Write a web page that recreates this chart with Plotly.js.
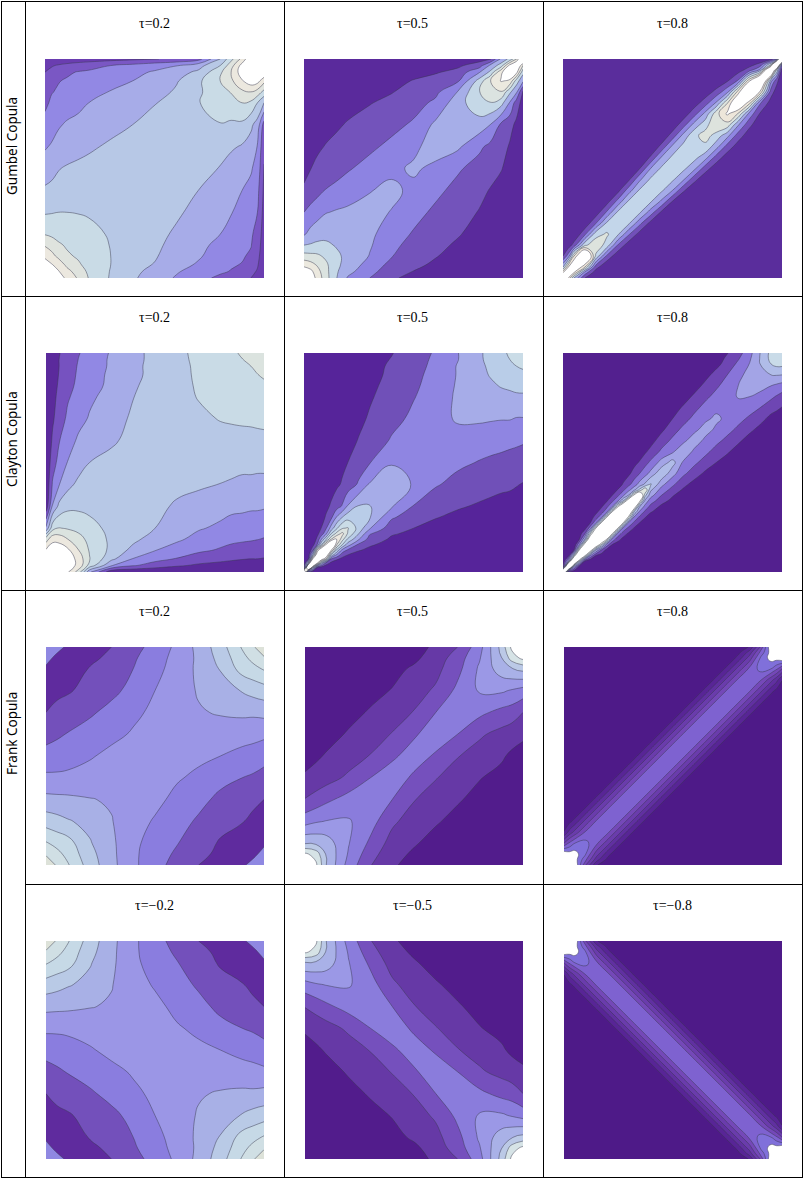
<!DOCTYPE html>
<html>
<head>
<meta charset="utf-8">
<script src="https://cdn.plot.ly/plotly-3.0.1.min.js"></script>
<style>
  body { margin: 0; background: #fff; overflow: hidden; }
</style>
</head>
<body>
<div id="plot"></div>
<script>
// grid nodes for the panels, u and v both run 0..1
let gridA = [0, .03, .06, .1, .15, .2, .3, .4, .5, .6, .7, .8, .85, .9, .94, .97, 1];
let gridB = [0, .025, .05, .1, .15, .2, .25, .3, .35, .4, .45, .5, .55, .6, .65, .7, .75, .8, .85, .9, .95, .975, 1];
let gridC = [0, .05, .1, .2, .3, .4, .5, .6, .7, .8, .9, .95, 1];
// finer near the lower left corner, the clayton ridges are narrow there
let gridD = [0, .025, .05, .075, .1, .125, .15, .175, .2, .225, .25, .275, .3, .325, .35, .375, .4, .45, .5, .55, .6, .65, .7, .75, .8, .85, .9, .95, .975, 1];
let gridE = [0, .02, .04, .06, .08, .1, .125, .15, .175, .2, .25, .3, .4, .5, .6, .7, .8, .85, .9, .94, .97, 1];

// densities, in contour units (z=1 is the first line, z=2 the second...)
// each row is one v, ending on the diagonal. short rows start with zeros
let gumbel02 = [
    [9.5], [9.1, 8.6], [8.5, 8.1, 7.6], [7.8, 7.3, 6.8, 6.2],
    [6.9, 6.6, 6.2, 5.85, 5.5],
    [5.95, 5.8, 5.6, 5.4, 5.25, 5.2],
    [4.9, 4.95, 5, 5, 4.98, 4.93, 4.8],
    [4.15, 4.2, 4.3, 4.4, 4.5, 4.55, 4.65, 4.6],
    [3.5, 3.75, 3.95, 4.1, 4.2, 4.3, 4.45, 4.5, 4.5],
    [2.9, 3.1, 3.3, 3.5, 3.7, 3.85, 4.15, 4.35, 4.45, 4.5],
    [2.3, 2.6, 2.9, 3.1, 3.25, 3.4, 3.7, 4, 4.3, 4.5, 4.7],
    [1.8, 2.15, 2.4, 2.6, 2.75, 3, 3.25, 3.55, 3.95, 4.4, 4.95, 5.5],
    [1.5, 1.95, 2.1, 2.3, 2.45, 2.6, 3.05, 3.25, 3.55, 4.15, 4.9, 5.4, 6.1],
    [1.2, 1.6, 1.95, 2.1, 2.25, 2.4, 2.7, 3, 3.4, 3.9, 4.8, 6, 6.8, 7.9],
    [1, 1.3, 1.55, 1.85, 2.05, 2.15, 2.4, 2.75, 3.1, 3.6, 4.2, 5.8, 7, 8.6, 9.3],
    [.5, .9, 1.1, 1.3, 1.5, 1.65, 2, 2.3, 2.65, 2.95, 3.6, 5, 6.6, 8.4, 9.5, 10],
    [0, .1, .2, .3, .4, .5, .65, .8, .95, 1.2, 1.6, 4, 5.7, 7.3, 9, 10, 10]
];
let gumbel05 = [
    [9], [7.7, 7.3], [6.7, 6.4, 5.9], [5.4, 5.3, 5.2, 4.8],
    [4, 4.1, 4.2, 4.1, 3.95],
    [2.9, 3.3, 3.6, 3.85, 3.7, 3.55],
    [2, 2.35, 2.6, 2.95, 3.1, 3.2, 3.2],
    [1.1, 1.4, 1.7, 2.05, 2.3, 2.5, 2.97, 3.15],
    [.8, .98, 1.2, 1.4, 1.6, 1.9, 2.35, 2.85, 3.1],
    [.5, .65, .85, 1.05, 1.3, 1.5, 1.8, 2.25, 2.85, 3.3],
    [.3, .4, .5, .7, .85, 1.1, 1.4, 1.7, 2.15, 3.2, 3.75],
    [.2, .25, .3, .4, .5, .6, .95, 1.25, 1.6, 2.2, 3.55, 4.7],
    [.1, .15, .2, .25, .3, .4, .7, .95, 1.35, 1.75, 3, 4.95, 5.8],
    [.05, .1, .1, .15, .2, .3, .45, .7, 1.05, 1.4, 1.8, 4.4, 5.95, 7.1],
    [0, .05, .1, .1, .15, .2, .3, .45, .7, .9, 1.3, 2.9, 4.2, 6.8, 8],
    [0, 0, .05, .05, .1, .1, .2, .3, .45, .6, .8, 1.5, 3.2, 4.5, 7.4, 9],
    [0, 0, 0, 0, 0, 0, .1, .1, .2, .3, .4, .6, .8, 3.2, 4.3, 5.8, 10]
];
let gumbel08 = [
    [9.5], [6.9, 9], [3.95, 7.05, 9], [1, 2.55, 6, 10],
    [.43, 1.43, 4.8, 5.7],
    [1.8, 4.6, 5.15],
    [.25, 1.95, 4.19, 4.8],
    [.4, 2.14, 4.17, 4.6],
    [.55, 2.3, 4.15, 4.5],
    [.64, 2.52, 4.15, 4.5],
    [.79, 2.8, 4.17, 4.5],
    [.97, 3, 4.18, 4.55],
    [1.15, 3.13, 4.23, 4.7],
    [.13, 1.3, 3.25, 4.32, 4.95],
    [.25, 1.43, 3.37, 4.75, 5.4],
    [.37, 1.56, 3.41, 4.63, 5.85],
    [.46, 1.6, 3.32, 5.6, 7.2],
    [.52, 1.5, 3.13, 5.9, 9],
    [.43, 1.3, 2.7, 6.5, 10],
    [.25, .9, 2.14, 6.8, 11],
    [.55, 1.43, 3.2, 11],
    [.6, 1.3, 5, 14],
    [.25, .5, 2, 14]
];
let clayton02 = [
    [10], [9.5, 9.8], [9, 9.2, 9.4], [8.1, 8.6, 8.7, 8.2],
    [6.5, 7.7, 7.6, 7, 6.6],
    [3.2, 5.6, 6.05, 5.9, 5.5, 5.25],
    [.3, 3.1, 4.25, 4.75, 4.85, 4.8, 4.7],
    [.1, 2.1, 2.95, 3.7, 4.25, 4.45, 4.55, 4.5],
    [0, 1.6, 2.3, 3.05, 3.55, 4, 4.3, 4.45, 4.5],
    [0, 1.15, 1.95, 2.5, 3.2, 3.4, 3.85, 4.3, 4.5, 4.55],
    [0, .85, 1.5, 2.2, 2.65, 3.1, 3.6, 4.15, 4.45, 4.6, 4.8],
    [0, .65, 1.3, 1.9, 2.35, 2.8, 3.4, 3.98, 4.35, 4.65, 5.05, 5.35],
    [0, .6, 1.15, 1.75, 2.2, 2.6, 3.25, 3.9, 4.3, 4.7, 5.1, 5.5, 5.65],
    [0, .55, 1.05, 1.6, 2.15, 2.55, 3.2, 3.8, 4.25, 4.7, 5.15, 5.5, 5.7, 5.85],
    [0, .5, 1, 1.5, 2.1, 2.45, 3.15, 3.8, 4.25, 4.75, 5.15, 5.55, 5.75, 5.9, 6],
    [0, .5, 1, 1.45, 2.03, 2.4, 3.15, 3.75, 4.25, 4.75, 5.2, 5.6, 5.8, 5.98, 6.15, 6.25],
    [0, .45, .95, 1.4, 1.95, 2.35, 3.1, 3.75, 4.25, 4.8, 5.2, 5.65, 5.85, 6.1, 6.25, 6.4, 6.5]
];
let clayton05 = [
    [14], [14], [5.4, 14], [.9, 8, 13], [.2, 4, 9, 13],
    [1.7, 7, 10, 12],
    [.6, 2, 5, 8, 11],
    [.3, 1.2, 3, 4.7, 7, 8.2],
    [.1, .75, 1.5, 2.7, 5, 6.4, 7.3],
    [.4, 1.05, 1.85, 3.5, 4.85, 5.9, 6.1],
    [.15, .6, 1.1, 1.8, 3.1, 4, 4.6, 4.9],
    [.2, .75, 1.15, 1.6, 2.1, 3.1, 4.1, 4.05],
    [.4, .6, .85, 1.1, 1.4, 2.15, 3.1, 3.35],
    [.2, .4, .6, .8, 1, 1.45, 1.95, 2.95, 3],
    [.1, .2, .35, .55, .7, 1.05, 1.4, 2.1, 2.55, 2.7],
    [.1, .2, .35, .45, .8, 1.1, 1.7, 2.2, 2.65, 3.1],
    [.1, .2, .3, .6, .9, 1.4, 1.95, 2.45, 3.15, 3.55],
    [.1, .2, .5, .8, 1.3, 1.85, 2.35, 3.1, 3.65, 3.85],
    [.15, .4, .7, 1.2, 1.75, 2.3, 3.05, 3.75, 4.05, 4.2],
    [.1, .35, .65, 1.15, 1.7, 2.2, 3.05, 3.8, 4.15, 4.45, 4.7],
    [.1, .35, .6, 1.05, 1.65, 2.15, 2.95, 3.85, 4.25, 4.65, 5, 5.25],
    [.05, .3, .55, .95, 1.55, 2.1, 2.95, 3.85, 4.3, 4.75, 5.15, 5.45, 5.7]
];
let clayton08 = [
    [14], [0, 14], [3.7, 12], [.5, 5.5, 12],
    [1, 7.2, 12],
    [3, 8, 12],
    [1, 4, 9, 12],
    [.4, 2, 6, 9.5, 12],
    [.6, 2.6, 7, 10, 12],
    [.2, 1, 2.8, 7, 10, 12],
    [.5, 1.4, 2.7, 7, 10, 12],
    [.7, 1.5, 2.7, 7, 10, 12],
    [.2, .8, 1.7, 2.9, 6.5, 9.5, 11.5],
    [.3, .9, 1.8, 2.8, 5, 8.5, 10.5],
    [.4, 1, 1.8, 2.8, 4.1, 7.4, 9.5],
    [.1, .5, 1.05, 1.8, 2.7, 3.7, 5.3, 7],
    [.5, 1.1, 1.75, 2.5, 3.4, 4.2, 5.2],
    [.1, .45, .8, 1.4, 2, 2.6, 3.3, 4.8],
    [.3, .7, 1.1, 1.65, 2.2, 3.4, 4.4],
    [.1, .25, .45, .85, 1.3, 2.2, 2.8, 4],
    [.25, .6, 1.5, 2.2, 2.7, 3.7],
    [.1, .8, 1.6, 2.25, 2.7, 3.5],
    [.3, 1, 1.65, 2.25, 2.75, 3.25],
    [.5, 1.15, 1.75, 2.3, 2.7, 2.95],
    [.55, 1.2, 1.8, 2.3, 2.75, 3.05],
    [.6, 1.25, 1.85, 2.4, 3, 3.3],
    [.7, 1.35, 2, 2.65, 3.4, 3.9],
    [.7, 1.4, 2.2, 3, 4, 5],
    [.5, 1.2, 1.9, 2.8, 4.05, 5.3, 5.7],
    [.3, .95, 1.6, 2.6, 4, 5.3, 5.8, 6]
];
let frank02 = [
    [9.6], [8.9, 8.3], [8.1, 7.7, 7.4],
    [6.55, 6.35, 6.1, 5.7],
    [5.3, 5.25, 5.2, 5.05, 4.9],
    [4.2, 4.2, 4.25, 4.4, 4.55, 4.6],
    [3.4, 3.45, 3.55, 3.9, 4.25, 4.45, 4.5],
    [2.6, 2.85, 3.05, 3.4, 3.75, 4.1, 4.35, 4.5],
    [2, 2.3, 2.45, 2.85, 3.3, 3.8, 4.2, 4.55, 4.9],
    [1.55, 1.75, 1.9, 2.3, 2.75, 3.3, 4, 4.45, 5.1, 5.7],
    [1.1, 1.35, 1.55, 2.05, 2.5, 3, 3.7, 4.4, 5.2, 6.05, 7.4],
    [.8, 1.15, 1.3, 1.75, 2.25, 2.85, 3.6, 4.3, 5.2, 6.35, 7.7, 8.3],
    [.6, .8, 1.1, 1.55, 2, 2.6, 3.4, 4.2, 5.3, 6.55, 8.1, 8.9, 9.6]
];
let frank05 = [
    [9.5], [8.2, 7.6], [5.9, 5.8, 5.5],
    [3.6, 3.9, 4.05, 4.1],
    [2.05, 2.4, 2.8, 3.4, 3.8],
    [1.15, 1.35, 1.6, 2.2, 3, 3.6],
    [.6, .85, 1.1, 1.5, 2.05, 2.8, 3.5],
    [.2, .4, .65, 1.1, 1.55, 2.05, 2.85, 3.6],
    [0, .1, .3, .7, 1.1, 1.55, 2.05, 3, 3.8],
    [0, 0, .1, .35, .7, 1.05, 1.6, 2.15, 3.25, 4.1],
    [0, 0, 0, .1, .35, .7, 1.15, 1.7, 2.7, 4.15, 5.5],
    [0, 0, 0, .05, .2, .5, .8, 1.45, 2.5, 3.9, 5.95, 7.5],
    [0, 0, 0, 0, .1, .3, .6, 1.2, 2, 3.6, 6.3, 8.3, 9.5]
];
let frank08 = [
    [9], [8.5, 8], [8, 7.5, 7.5], [4, 5.2, 6, 6.3],
    [1.1, 2.4, 3.4, 5.2, 5.9],
    [0, .7, 1.4, 3.4, 5.2, 5.7],
    [1.4, 3.4, 5.2, 5.6],
    [1.4, 3.4, 5.2, 5.6],
    [1.4, 3.4, 5.2, 5.6],
    [1.4, 3.4, 5.2, 5.6],
    [1.4, 3.4, 5.2, 5.6],
    [1.4, 3.4, 5.2, 5.6],
    [1.4, 3.4, 5.2, 5.6],
    [1.4, 3.4, 5.2, 5.6],
    [1.4, 3.4, 5.2, 5.6],
    [1.4, 3.4, 5.2, 5.6],
    [1.4, 3.4, 5.2, 5.6],
    [1.4, 3.4, 5.2, 5.7],
    [1.4, 3.4, 5.2, 5.9],
    [1.4, 3.4, 5.2, 6.3],
    [1.4, 3.4, 6, 7.5],
    [.7, 2.4, 5.2, 7.5, 8],
    [1.1, 4, 8, 8.5, 9]
];

// band colours, lowest band first
let bandsGumbel02 = ["#6a3db0", "#7a57c4", "#9288e4", "#a7ace8", "#b7c8e6", "#c9dbe6", "#dfe3de", "#ece8df", "#ffffff"];
let bandsGumbel05 = ["#5a2a9c", "#7353bb", "#8d83e2", "#a6aee8", "#c5d8e7", "#dbe3e0", "#ece9df", "#ffffff"];
let bandsGumbel08 = ["#5a2d9c", "#7250b9", "#8f85e2", "#a5abe8", "#c3d6ea", "#dde3dd", "#ede6da", "#ffffff"];
let bandsClayton02 = ["#5b2a9c", "#7652c0", "#9188e4", "#a6ace8", "#b7c8e6", "#c9dbe6", "#dbe3df", "#ece8df", "#ffffff"];
let bandsClayton05 = ["#56249a", "#7050b8", "#8f85e2", "#a6ace8", "#b9cde8", "#cadce7", "#dbe2df", "#ece8df", "#ffffff"];
let bandsClayton08 = ["#53208f", "#6e46b3", "#8874d9", "#a3a4e6", "#b0bce8", "#c9dbe8", "#e0e6df", "#ffffff"];
let bandsFrank02 = ["#8f88e2", "#5f2b9e", "#7350bb", "#8a7ddf", "#9b96e6", "#a8b0e6", "#b9cae6", "#c6d9e6", "#d0dfe4", "#dde2d9"];
let bandsFrank05 = ["#521c8c", "#6639a6", "#7550bd", "#8a7cdc", "#9b98e6", "#a9b1e7", "#bbc9e6", "#d6e3e6", "#ffffff"];
let bandsFrank08 = ["#4e1a88", "#582596", "#6030a0", "#6a3cac", "#7448b8", "#7e62d0", "#8070da", "#ffffff"];

let rowLabels = ["Gumbel Copula", "Clayton Copula", "Frank Copula"];
let tauLabels = [
    ["τ=0.2", "τ=0.5", "τ=0.8"],
    ["τ=0.2", "τ=0.5", "τ=0.8"],
    ["τ=0.2", "τ=0.5", "τ=0.8"],
    ["τ=−0.2", "τ=−0.5", "τ=−0.8"]
];

// the rows hold one side of the diagonal, the other side is the same
function fullGrid(rows, n) {
    let z = [];
    for (let j = 0; j < n; j++) {
        z.push([]);
        for (let i = 0; i < n; i++) {
            let row = rows[Math.max(i, j)];
            let k = Math.min(i, j) - (Math.max(i, j) + 1 - row.length);
            z[j].push(k < 0 ? 0 : row[k]);
        }
    }
    return z;
}

let W = 803, H = 1179;
let panelY = [[59, 278], [353, 572], [647, 865], [941, 1159]];
let panelX = [
    [[45, 264], [304, 523], [563, 782]],
    [[46, 264], [304, 523], [563, 782]],
    [[46, 264], [305, 523], [564, 782]],
    [[46, 264], [305, 523], [564, 782]]
];
let titleX = [154, 413, 672];
let titleY = [23, 317, 611, 905];

let panels = [
    [[gumbel02, gridA, bandsGumbel02], [gumbel05, gridA, bandsGumbel05], [gumbel08, gridB, bandsGumbel08]],
    [[clayton02, gridA, bandsClayton02], [clayton05, gridE, bandsClayton05], [clayton08, gridD, bandsClayton08]],
    [[frank02, gridC, bandsFrank02], [frank05, gridC, bandsFrank05], [frank08, gridB, bandsFrank08]],
    [[frank02, gridC, bandsFrank02], [frank05, gridC, bandsFrank05], [frank08, gridB, bandsFrank08]]
];

let data = [];
let annotations = [];
let layout = {
    width: W,
    height: H,
    margin: {l: 0, r: 0, t: 0, b: 0},
    paper_bgcolor: "white",
    plot_bgcolor: "white",
    showlegend: false
};

panels.forEach(function(row, r) {
    row.forEach(function(panel, c) {
        let n = r * 3 + c + 1;
        let z = fullGrid(panel[0], panel[1].length);
        if (r == 3) z.reverse(); // negative tau is the positive one flipped
        let bands = panel[2];
        data.push({
            type: "contour",
            x: panel[1],
            y: panel[1],
            z: z,
            xaxis: "x" + n,
            yaxis: "y" + n,
            autocontour: false,
            contours: {start: 1, end: bands.length - 1, size: 1, coloring: "fill"},
            colorscale: bands.map((col, i) => [i / (bands.length - 1), col]),
            line: {color: "rgba(55,55,75,0.6)", width: 0.8, smoothing: 1.3},
            showscale: false,
            hoverinfo: "skip"
        });
        layout["xaxis" + n] = {
            domain: [panelX[r][c][0] / W, panelX[r][c][1] / W],
            range: [0, 1], visible: false, fixedrange: true, anchor: "y" + n
        };
        layout["yaxis" + n] = {
            domain: [1 - panelY[r][1] / H, 1 - panelY[r][0] / H],
            range: [0, 1], visible: false, fixedrange: true, anchor: "x" + n
        };
        annotations.push({
            text: tauLabels[r][c],
            xref: "paper", yref: "paper",
            x: titleX[c] / W, y: 1 - titleY[r] / H,
            xanchor: "center", yanchor: "middle",
            showarrow: false,
            font: {family: "Liberation Serif", size: 14, color: "black"}
        });
    });
});

// row names down the left column
[146, 439, 734].forEach(function(y, i) {
    annotations.push({
        text: rowLabels[i],
        xref: "paper", yref: "paper",
        x: 12 / W, y: 1 - y / H,
        xanchor: "center", yanchor: "middle",
        textangle: -90,
        showarrow: false,
        font: {family: "Noto Sans", size: 13.5, color: "black"}
    });
});
layout.annotations = annotations;

// table rules
function rule(x0, y0, x1, y1) {
    return {
        type: "line", xref: "paper", yref: "paper",
        x0: x0 / W, y0: 1 - y0 / H, x1: x1 / W, y1: 1 - y1 / H,
        line: {color: "black", width: 1}
    };
}
layout.shapes = [
    rule(1, 1.5, 802.5, 1.5),
    rule(1, 296.5, 802.5, 296.5),
    rule(1, 590.5, 802.5, 590.5),
    rule(25, 884.5, 802.5, 884.5),
    rule(1, 1177.5, 802.5, 1177.5),
    rule(1.5, 1, 1.5, 1178),
    rule(25.5, 1, 25.5, 1178),
    rule(284.5, 1, 284.5, 1178),
    rule(543.5, 1, 543.5, 1178),
    rule(802.5, 1, 802.5, 1178)
];

Plotly.newPlot("plot", data, layout, {displayModeBar: false, staticPlot: true});
</script>
</body>
</html>
